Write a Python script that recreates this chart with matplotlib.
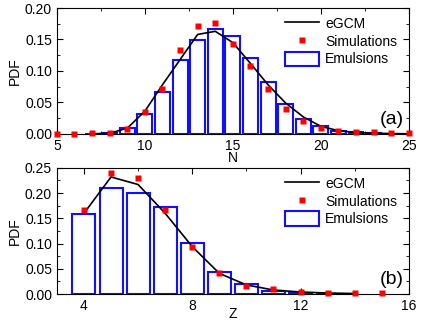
import numpy as np
import matplotlib
matplotlib.use("Agg")
import matplotlib.pyplot as plt
from matplotlib.ticker import MultipleLocator

plt.rcParams['font.family'] = ['Liberation Sans', 'DejaVu Sans']
plt.rcParams['font.size'] = 10

# panel (a): neutron number N
n_bar = [7, 8, 9, 10, 11, 12, 13, 14, 15, 16, 17, 18, 19, 20, 21, 22, 23]
n_emul = [0.0005, 0.002, 0.009, 0.031, 0.067, 0.117, 0.149, 0.166, 0.155,
          0.120, 0.083, 0.047, 0.024, 0.013, 0.005, 0.003, 0.001]
n_sim_x = [5, 6, 7, 8, 9, 10, 11, 12, 13, 14, 15, 16, 17, 18, 19, 20, 21, 22, 23, 24, 25]
n_sim = [0.0005, 0.0005, 0.0008, 0.001, 0.008, 0.035, 0.072, 0.134, 0.171, 0.176,
         0.143, 0.108, 0.071, 0.040, 0.020, 0.009, 0.005, 0.003, 0.0025, 0.002, 0.0015]
n_gcm_x = [7, 8, 9, 10, 11, 12, 13, 14, 15, 16, 17, 18, 19, 20, 21, 22, 23, 24, 25]
n_gcm = [0.0, 0.001, 0.009, 0.036, 0.078, 0.118, 0.158, 0.163, 0.145, 0.112,
         0.078, 0.049, 0.027, 0.012, 0.005, 0.002, 0.001, 0.0005, 0.0]

# panel (b): proton number Z
z_bar = [4, 5, 6, 7, 8, 9, 10, 11, 12, 13]
z_emul = [0.158, 0.211, 0.200, 0.172, 0.101, 0.044, 0.019, 0.006, 0.003, 0.001]
z_sim_x = [4, 5, 6, 7, 8, 9, 10, 11, 12, 13, 14, 15]
z_sim = [0.166, 0.239, 0.230, 0.167, 0.093, 0.041, 0.015, 0.009, 0.005, 0.003, 0.003, 0.003]
z_gcm_x = [4, 5, 6, 7, 8, 9, 10, 11, 12, 13, 14]
z_gcm = [0.160, 0.232, 0.217, 0.160, 0.094, 0.041, 0.018, 0.008, 0.004, 0.002, 0.001]

fig = plt.figure(figsize=(4.41, 3.21), dpi=100)
ax1 = fig.add_axes([0.129, 0.583, 0.798, 0.392])
ax2 = fig.add_axes([0.129, 0.084, 0.798, 0.393])


def draw(ax, bx, by, sx, sy, gx, gy):
    ax.bar(bx, by, width=0.85, facecolor='white', edgecolor='#1010ff',
           linewidth=1.5, label='Emulsions', zorder=2)
    ax.plot(gx, gy, color='black', lw=1.2, label='eGCM', zorder=3)
    ax.plot(sx, sy, 's', color='#ff0000', ms=4.5, mec='none',
            label='Simulations', zorder=4, clip_on=False)
    h, l = ax.get_legend_handles_labels()
    order = [l.index('eGCM'), l.index('Simulations'), l.index('Emulsions')]
    ax.legend([h[i] for i in order], [l[i] for i in order], loc='upper right',
              frameon=False, handlelength=2.5, handleheight=1.2,
              borderaxespad=0.2, labelspacing=0.2, handletextpad=0.4,
              bbox_to_anchor=(0.99, 1.0))
    ax.tick_params(which='both', direction='in', top=True, right=True)
    ax.tick_params(which='major', length=4)
    ax.tick_params(which='minor', length=2)
    ax.set_ylabel('PDF', labelpad=2)


draw(ax1, n_bar, n_emul, n_sim_x, n_sim, n_gcm_x, n_gcm)
ax1.set_xlim(5, 25)
ax1.set_ylim(0, 0.2)
ax1.xaxis.set_major_locator(MultipleLocator(5))
ax1.xaxis.set_minor_locator(MultipleLocator(2.5))
ax1.yaxis.set_major_locator(MultipleLocator(0.05))
ax1.yaxis.set_minor_locator(MultipleLocator(0.025))
ax1.set_xlabel('N', labelpad=-1)
ax1.text(0.985, 0.05, '(a)', transform=ax1.transAxes, ha='right', va='bottom', fontsize=14)

draw(ax2, z_bar, z_emul, z_sim_x, z_sim, z_gcm_x, z_gcm)
ax2.set_xlim(3, 16)
ax2.set_ylim(0, 0.25)
ax2.xaxis.set_major_locator(MultipleLocator(4))
ax2.xaxis.set_minor_locator(MultipleLocator(2))
ax2.yaxis.set_major_locator(MultipleLocator(0.05))
ax2.yaxis.set_minor_locator(MultipleLocator(0.025))
ax2.set_xlabel('Z', labelpad=-4)
ax2.text(0.985, 0.05, '(b)', transform=ax2.transAxes, ha='right', va='bottom', fontsize=14)

fig.savefig('out.png', dpi=100)
